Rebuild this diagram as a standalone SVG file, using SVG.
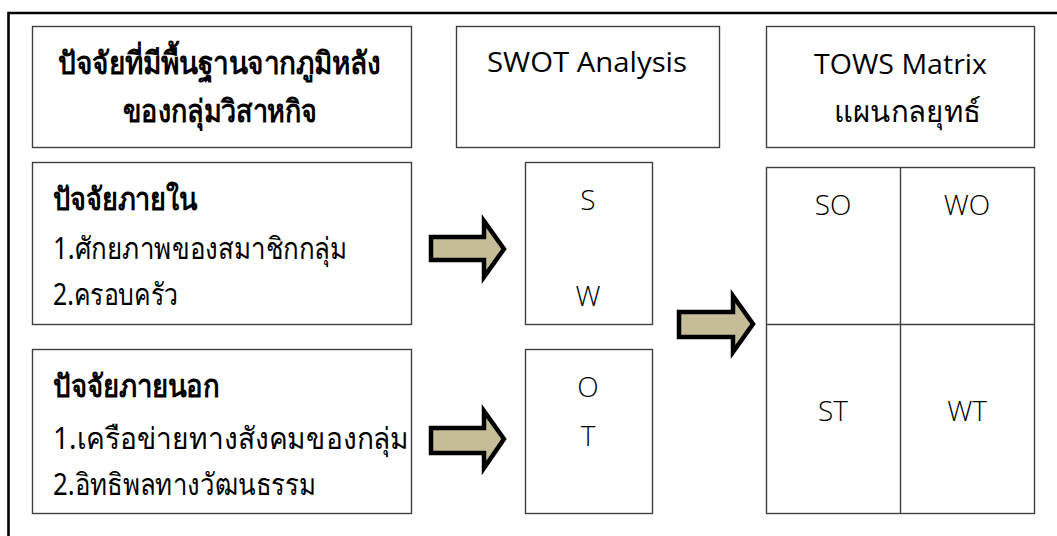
<svg xmlns="http://www.w3.org/2000/svg" width="1057" height="536" viewBox="0 0 1057 536">
<style>
.box{fill:#fff;stroke:#404040;stroke-width:1.4}
.th{font-family:"Noto Sans","DejaVu Sans",sans-serif;fill:#000}
.b{font-weight:bold}
.hd{font-size:31px}
.li{font-size:30px}
.lt{font-family:"Open Sans","Noto Sans",sans-serif;font-weight:300;font-size:28px;fill:#000}
.en{font-family:"Open Sans","Noto Sans",sans-serif;font-size:27px;fill:#000}
.arr{fill:#C4BD97;stroke:#000;stroke-width:4.5;stroke-linejoin:miter}
</style>
<rect width="1057" height="536" fill="#fff"/>
<path d="M8.5 536V13H1057" fill="none" stroke="#000" stroke-width="2.6"/>
<g id="hdr-factors">
<rect class="box" x="32.5" y="26.5" width="379" height="121"/>
<text class="th b hd" x="58" y="74" textLength="323" lengthAdjust="spacingAndGlyphs">ปัจจัยที่มีพื้นฐานจากภูมิหลัง</text>
<text class="th b hd" x="123" y="122" textLength="194" lengthAdjust="spacingAndGlyphs">ของกลุ่มวิสาหกิจ</text>
</g>
<g id="hdr-swot">
<rect class="box" x="456.5" y="26.5" width="263" height="121"/>
<text class="en" x="487" y="72" textLength="200" lengthAdjust="spacingAndGlyphs">SWOT Analysis</text>
</g>
<g id="hdr-tows">
<rect class="box" x="766.5" y="26.5" width="268" height="121"/>
<text class="en" x="814" y="74" textLength="173" lengthAdjust="spacingAndGlyphs">TOWS Matrix</text>
<text class="th li" x="834" y="122" textLength="147" lengthAdjust="spacingAndGlyphs">แผนกลยุทธ์</text>
</g>
<g id="internal">
<rect class="box" x="32.5" y="162.5" width="379" height="162"/>
<text class="th b hd" x="53" y="210" textLength="144" lengthAdjust="spacingAndGlyphs">ปัจจัยภายใน</text>
<text class="th li" x="53" y="259" textLength="294" lengthAdjust="spacingAndGlyphs">1.ศักยภาพของสมาชิกกลุ่ม</text>
<text class="th li" x="53" y="305" textLength="125" lengthAdjust="spacingAndGlyphs">2.ครอบครัว</text>
</g>
<g id="external">
<rect class="box" x="32.5" y="349.5" width="379" height="164"/>
<text class="th b hd" x="53" y="397" textLength="167" lengthAdjust="spacingAndGlyphs">ปัจจัยภายนอก</text>
<text class="th li" x="53" y="449" textLength="356" lengthAdjust="spacingAndGlyphs">1.เครือข่ายทางสังคมของกลุ่ม</text>
<text class="th li" x="53" y="495" textLength="263" lengthAdjust="spacingAndGlyphs">2.อิทธิพลทางวัฒนธรรม</text>
</g>
<g id="sw">
<rect class="box" x="525.5" y="162.5" width="127" height="162"/>
<text class="lt" x="588" y="210" text-anchor="middle">S</text>
<text class="lt" x="588" y="306" text-anchor="middle">W</text>
</g>
<g id="ot">
<rect class="box" x="525.5" y="349.5" width="127" height="164"/>
<text class="lt" x="588" y="397" text-anchor="middle">O</text>
<text class="lt" x="588" y="446" text-anchor="middle">T</text>
</g>
<g id="tows-matrix">
<rect class="box" x="766.5" y="167.5" width="268" height="346"/>
<line x1="766.5" y1="324.5" x2="1034.5" y2="324.5" stroke="#404040" stroke-width="1.4"/>
<line x1="900.5" y1="167.5" x2="900.5" y2="513.5" stroke="#404040" stroke-width="1.4"/>
<text class="lt" x="833" y="215" text-anchor="middle">SO</text>
<text class="lt" x="967" y="215" text-anchor="middle">WO</text>
<text class="lt" x="833" y="421" text-anchor="middle">ST</text>
<text class="lt" x="967" y="421" text-anchor="middle">WT</text>
</g>
<g id="connectors">
<path class="arr" d="M431 237H484V221L504 249L484 277V260H431Z"/>
<path class="arr" d="M431 428H484V411L504 439L484 468V453H431Z"/>
<path class="arr" d="M679 312H733V296L753 324L733 352V337H679Z"/>
</g>
</svg>
